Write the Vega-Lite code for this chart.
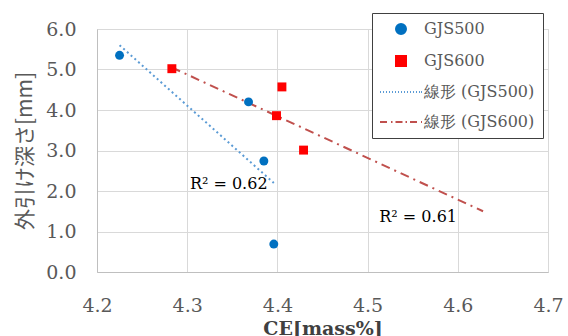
{
  "$schema": "https://vega.github.io/schema/vega-lite/v6.json",
  "width": 451,
  "height": 243,
  "autosize": "none",
  "padding": {"left": 97, "top": 29, "right": 20, "bottom": 64},
  "background": "white",
  "config": {
    "font": "DejaVu Serif",
    "view": {"stroke": "#d9d9d9", "strokeWidth": 1},
    "axis": {
      "gridColor": "#d9d9d9",
      "domainColor": "#bfbfbf",
      "ticks": false,
      "labelFlush": false,
      "labelFont": "DejaVu Serif",
      "labelFontSize": 19,
      "labelColor": "#595959"
    },
    "legend": {
      "labelFont": "DejaVu Serif",
      "labelFontSize": 16,
      "labelColor": "#595959",
      "labelLimit": 300
    }
  },
  "data": {
    "values": [
      {"series": "GJS500", "kind": "point", "ce": 4.225, "depth": 5.35},
      {"series": "GJS500", "kind": "point", "ce": 4.368, "depth": 4.2},
      {"series": "GJS500", "kind": "point", "ce": 4.385, "depth": 2.74},
      {"series": "GJS500", "kind": "point", "ce": 4.396, "depth": 0.69},
      {"series": "GJS600", "kind": "point", "ce": 4.283, "depth": 5.02},
      {"series": "GJS600", "kind": "point", "ce": 4.405, "depth": 4.57},
      {"series": "GJS600", "kind": "point", "ce": 4.399, "depth": 3.86},
      {"series": "GJS600", "kind": "point", "ce": 4.429, "depth": 3.01},
      {"series": "線形 (GJS500)", "kind": "trend", "ce": 4.225, "depth": 5.6},
      {"series": "線形 (GJS500)", "kind": "trend", "ce": 4.396, "depth": 2.2},
      {"series": "線形 (GJS600)", "kind": "trend", "ce": 4.283, "depth": 5.05},
      {"series": "線形 (GJS600)", "kind": "trend", "ce": 4.628, "depth": 1.5},
      {"series": "r500", "kind": "label", "ce": 4.303, "depth": 2.05, "text": "R² = 0.62"},
      {"series": "r600", "kind": "label", "ce": 4.513, "depth": 1.23, "text": "R² = 0.61"}
    ]
  },
  "encoding": {
    "x": {
      "field": "ce", "type": "quantitative",
      "scale": {"domain": [4.2, 4.7], "nice": false, "zero": false},
      "axis": {"values": [4.2, 4.3, 4.4, 4.5, 4.6, 4.7], "format": ".1f", "labelPadding": 24,
               "title": "CE[mass%]", "titleFontSize": 19, "titleFontWeight": "bold", "titleColor": "#404040", "titlePadding": 4, "titleFont": "DejaVu Serif"}
    },
    "y": {
      "field": "depth", "type": "quantitative",
      "scale": {"domain": [0, 6], "nice": false},
      "axis": {"values": [0, 1, 2, 3, 4, 5, 6], "format": ".1f", "labelPadding": 21,
               "title": "外引け深さ[mm]", "titleFontSize": 21, "titleFontWeight": "normal", "titleColor": "#595959", "titlePadding": 10, "titleFont": "Noto Sans CJK JP"}
    }
  },
  "layer": [
    {
      "transform": [{"filter": "datum.kind === 'trend'"}],
      "mark": {"type": "line", "strokeWidth": 2},
      "encoding": {
        "detail": {"field": "series"},
        "color": {"field": "series", "type": "nominal", "title": null,
          "scale": {"domain": ["GJS500", "GJS600", "線形 (GJS500)", "線形 (GJS600)"], "range": ["#0070c0", "#ff0000", "#5b9bd5", "#c0504d"]}},
        "strokeDash": {"field": "series", "type": "nominal", "legend": null,
          "scale": {"domain": ["線形 (GJS500)", "線形 (GJS600)"], "range": [[2, 3], [9, 5, 2, 5]]}}
      }
    },
    {
      "transform": [{"filter": "datum.kind === 'point'"}],
      "mark": {"type": "point", "filled": true, "opacity": 1, "size": 80},
      "encoding": {
        "color": {"field": "series", "type": "nominal", "title": null,
          "scale": {"domain": ["GJS500", "GJS600", "線形 (GJS500)", "線形 (GJS600)"], "range": ["#0070c0", "#ff0000", "#5b9bd5", "#c0504d"]},
          "legend": {
            "orient": "none", "legendX": 275, "legendY": -16,
            "strokeColor": "#404040", "fillColor": "white", "padding": 8,
            "labelFont": "DejaVu Serif", "labelFontSize": 16, "labelColor": "#595959",
            "symbolOffset": 13, "labelOffset": 15, "rowPadding": 14, "symbolSize": 100, "symbolStrokeWidth": 2,
            "encode": {
              "labels": {
                "update": {
                  "font": {"value": "DejaVu Serif"},
                  "fontSize": {"value": 16},
                  "fill": {"value": "#595959"}
                }
              },
              "symbols": {
                "update": {
                  "fill": [{"test": "datum.value === 'GJS500'", "value": "#0070c0"}, {"test": "datum.value === 'GJS600'", "value": "#ff0000"}, {"value": "transparent"}],
                  "stroke": [{"test": "datum.value === '線形 (GJS500)'", "value": "#5b9bd5"}, {"test": "datum.value === '線形 (GJS600)'", "value": "#c0504d"}, {"value": "transparent"}],
                  "strokeWidth": {"value": 2}
                }
              }
            }
          }
        },
        "shape": {"field": "series", "type": "nominal", "legend": null,
          "scale": {"domain": ["GJS500", "GJS600", "線形 (GJS500)", "線形 (GJS600)"],
                    "range": ["circle", "square",
                              "M-4.2,0h0.2M-3.6,0h0.2M-3,0h0.2M-2.4,0h0.2M-1.8,0h0.2M-1.2,0h0.2M-0.6,0h0.2M0,0h0.2M0.6,0h0.2M1.2,0h0.2M1.8,0h0.2M2.4,0h0.2M3,0h0.2M3.6,0h0.2M4.0,0h0.2",
                              "M-4.2,0h1.4M-2.0,0h0.3M-1.1,0h1.4M0.9,0h0.3M1.8,0h1.4M4.0,0h0.2"]}}
      }
    },
    {
      "transform": [{"filter": "datum.kind === 'label'"}],
      "mark": {"type": "text", "align": "left", "baseline": "alphabetic", "fontSize": 16, "color": "#000000", "font": "DejaVu Serif"},
      "encoding": {"text": {"field": "text"}}
    }
  ]
}
